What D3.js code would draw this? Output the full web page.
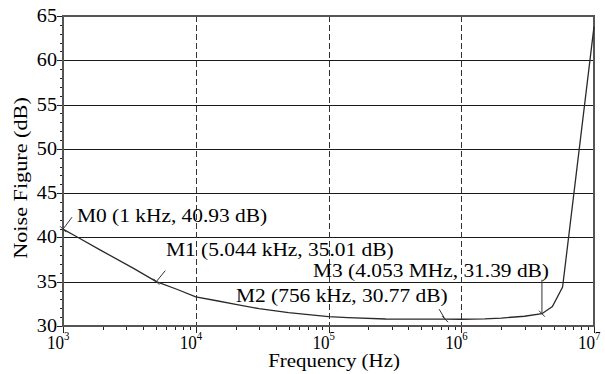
<!DOCTYPE html>
<html><head><meta charset="utf-8">
<script src="https://cdn.jsdelivr.net/npm/d3@7"></script>
<style>body{margin:0;background:#fff;}</style></head>
<body><svg id="c" width="605" height="374"></svg>
<script>
const freq = [1e3, 1.26e3, 1.9e3, 3.4e3, 5.044e3, 7.2e3, 1e4, 1.44e4, 2e4, 3e4, 5e4, 1e5, 1.4e5, 2.7e5, 7.56e5, 1e6, 1.5e6, 2e6, 3e6, 4.053e6, 4.86e6, 5.8e6, 1e7];
const nf   = [40.93, 40.1, 38.6, 36.5, 35.01, 34.15, 33.3, 32.85, 32.45, 31.95, 31.5, 31.05, 30.94, 30.79, 30.77, 30.76, 30.8, 30.9, 31.1, 31.39, 32.2, 34.4, 63.8];
const yTicks = [30, 35, 40, 45, 50, 55, 60, 65];
const xDecades = [3, 4, 5, 6, 7];
const markerNames = ["M0", "M1", "M2", "M3"];
const markerFreq = [1e3, 5.044e3, 7.56e5, 4.053e6];
const markerNF = [40.93, 35.01, 30.77, 31.39];
const markerText = ["M0 (1 kHz, 40.93 dB)", "M1 (5.044 kHz, 35.01 dB)", "M2 (756 kHz, 30.77 dB)", "M3 (4.053 MHz, 31.39 dB)"];

const FONT = "'Liberation Serif'";
const svg = d3.select("#c");
const L = 63, R = 594, T = 16, B = 326;
const x = d3.scaleLog().domain([1e3, 1e7]).range([L, R]);
const y = d3.scaleLinear().domain([30, 65]).range([B, T]);
const INK = "#000";

function label(g, tx, ty, str, size, anchor, sx, rot) {
  return g.append("text")
    .attr("transform", `translate(${tx},${ty})${rot ? " rotate(" + rot + ")" : ""} scale(${sx},1)`)
    .attr("text-anchor", anchor).attr("font-size", size).attr("fill", INK)
    .style("font-family", FONT).text(str);
}

// grid
svg.append("g").selectAll("line").data(yTicks.slice(1, -1)).join("line")
  .attr("x1", L).attr("x2", R).attr("y1", d => Math.round(y(d)) + 0.5).attr("y2", d => Math.round(y(d)) + 0.5)
  .attr("stroke", "#1a1a1a").attr("stroke-width", 1);
svg.append("g").selectAll("line").data(xDecades.slice(1, -1)).join("line")
  .attr("y1", T).attr("y2", B)
  .attr("x1", d => Math.round(x(Math.pow(10, d))) + 0.5).attr("x2", d => Math.round(x(Math.pow(10, d))) + 0.5)
  .attr("stroke", "#333").attr("stroke-width", 1).attr("stroke-dasharray", "6,3");

const minorX = [];
for (let e = 3; e < 7; e++) for (let m = 2; m <= 9; m++) minorX.push(m * Math.pow(10, e));

// y axis
const gy = svg.append("g");
gy.selectAll("line.t").data(d3.range(30, 66, 1)).join("line").attr("class", "t")
  .attr("x1", d => L + (d % 5 === 0 ? -6 : -3)).attr("x2", L)
  .attr("y1", d => Math.round(y(d)) + 0.5).attr("y2", d => Math.round(y(d)) + 0.5)
  .attr("stroke", "#222");
yTicks.forEach(d => label(gy, L - 6, y(d) + 6, String(d), 18, "end", 1.12));

// x axis
const gx = svg.append("g");
gx.selectAll("line.mn").data(minorX).join("line").attr("class", "mn")
  .attr("x1", d => Math.round(x(d)) + 0.5).attr("x2", d => Math.round(x(d)) + 0.5)
  .attr("y1", B).attr("y2", B + 4).attr("stroke", "#222");
gx.selectAll("line.mj").data(xDecades).join("line").attr("class", "mj")
  .attr("x1", d => Math.round(x(Math.pow(10, d))) + 0.5).attr("x2", d => Math.round(x(Math.pow(10, d))) + 0.5)
  .attr("y1", B).attr("y2", B + 7).attr("stroke", "#222");
xDecades.forEach(d => {
  const px = x(Math.pow(10, d)) + 1;
  label(gx, px, B + 23, "10", 19, "end", 0.9);
  label(gx, px, B + 14, String(d), 12, "start", 0.9);
});

// frame
svg.append("rect").attr("x", L).attr("y", T).attr("width", R - L).attr("height", B - T)
  .attr("fill", "none").attr("stroke", "#555").attr("stroke-width", 2);

// curve
svg.append("path").datum(freq.map((f, i) => [f, nf[i]]))
  .attr("d", d3.line().x(d => x(d[0])).y(d => y(d[1])))
  .attr("fill", "none").attr("stroke", "#2a2a2a").attr("stroke-width", 1.3);

// markers
const leaders = [[9, -12], [9, -11], [-6, -10], [0, -34]];
const labelPos = [[77, 222], [166, 256], [236, 302], [313, 277]];
markerNames.forEach((n, i) => {
  const px = x(markerFreq[i]), py = y(markerNF[i]);
  svg.append("line").attr("x1", px).attr("y1", py).attr("x2", px + leaders[i][0]).attr("y2", py + leaders[i][1])
    .attr("stroke", "#333").attr("stroke-width", 1);
  svg.append("line").attr("x1", px - 3).attr("y1", py - 3).attr("x2", px + 3).attr("y2", py + 3)
    .attr("stroke", "#333").attr("stroke-width", 1);
  label(svg, labelPos[i][0], labelPos[i][1], markerText[i], 18, "start", 1.19);
});

// axis titles
label(svg, 334, 367, "Frequency (Hz)", 19, "middle", 1.1);
label(svg, 27, 178, "Noise Figure (dB)", 19, "middle", 1.17, -90);
</script></body></html>
